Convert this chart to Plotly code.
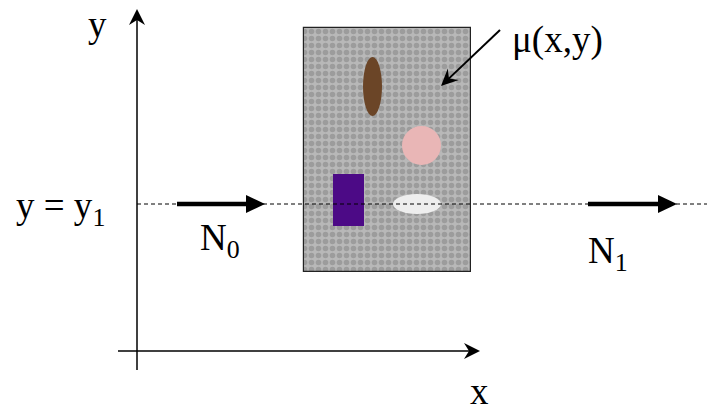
import plotly.graph_objects as go
import math

# ---- diagram content (canvas units = reference pixels, y downward) ----
labels = ["y", "y = y<sub>1</sub>", "N<sub>0</sub>", "N<sub>1</sub>", "x", "μ(x,y)"]
label_pos = [(97, 24), (14, 208), (220, 240), (608, 253), (479, 391), (557, 40)]
label_anchor = ["center", "left", "center", "center", "center", "center"]

phantom_box = [304, 28, 471, 272]            # x0, y0, x1, y1
object_kinds = ["ellipse", "ellipse", "rect", "ellipse"]
object_boxes = [[363, 57, 382, 116], [402, 126, 441, 165], [333, 174, 364, 226], [393, 194, 441, 214]]
object_colors = ["#6b4527", "#e9b6b6", "#4c0a86", "#eeeeee"]

beam_y = 204
flux_arrows = [(177, 265), (588, 677)]       # tail x, tip x
axis_origin = (137, 351)
axis_ends = {"y_top": 9, "y_bottom": 370, "x_left": 118, "x_right": 480}
mu_arrow = ((500, 30), (441, 86))

fig = go.Figure()

# textured phantom (pattern fill)
fig.add_trace(go.Bar(
    x=[(phantom_box[0] + phantom_box[2]) / 2], width=[phantom_box[2] - phantom_box[0]],
    base=[phantom_box[1]], y=[phantom_box[3] - phantom_box[1]],
    marker=dict(color="#a9a9a9", line=dict(color="#222", width=1.2),
                pattern=dict(shape=".", fgcolor="#808080", bgcolor="#b8b8b8", size=7, solidity=0.5)),
    hoverinfo="skip", showlegend=False))

shapes = []
for kind, b, c in zip(object_kinds, object_boxes, object_colors):
    shapes.append(dict(type="circle" if kind == "ellipse" else "rect",
                       x0=b[0], y0=b[1], x1=b[2], y1=b[3],
                       fillcolor=c, line=dict(width=0), layer="above"))

ox, oy = axis_origin
# axes
shapes.append(dict(type="line", x0=ox, x1=ox, y0=axis_ends["y_bottom"], y1=axis_ends["y_top"] + 8,
                   line=dict(color="black", width=1.5)))
shapes.append(dict(type="line", x0=axis_ends["x_left"], x1=axis_ends["x_right"] - 8, y0=oy, y1=oy,
                   line=dict(color="black", width=1.5)))
# y arrowhead (barbed)
t = axis_ends["y_top"]
shapes.append(dict(type="path", path=f"M {ox},{t} L {ox+8},{t+16} L {ox},{t+11} L {ox-8},{t+16} Z",
                   fillcolor="black", line=dict(width=0)))
# x arrowhead (barbed)
r = axis_ends["x_right"]
shapes.append(dict(type="path", path=f"M {r},{oy} L {r-16},{oy-8} L {r-11},{oy} L {r-16},{oy+8} Z",
                   fillcolor="black", line=dict(width=0)))

# dashed beam line
shapes.append(dict(type="line", x0=ox, x1=707, y0=beam_y, y1=beam_y,
                   line=dict(color="black", width=1, dash="4px,3px"), layer="above"))

# thick flux arrows
for tail, tip in flux_arrows:
    shapes.append(dict(type="line", x0=tail, x1=tip - 16, y0=beam_y, y1=beam_y,
                       line=dict(color="black", width=4.5)))
    shapes.append(dict(type="path", path=f"M {tip},{beam_y} L {tip-19},{beam_y-9} L {tip-19},{beam_y+9} Z",
                       fillcolor="black", line=dict(width=0)))

# mu arrow
(x0, y0), (x1, y1) = mu_arrow
dx, dy = x1 - x0, y1 - y0
L = math.hypot(dx, dy)
ux, uy = dx / L, dy / L
px, py = -uy, ux
hl, hw, notch = 17, 8, 11
shapes.append(dict(type="line", x0=x0, y0=y0, x1=x1 - ux * 10, y1=y1 - uy * 10,
                   line=dict(color="black", width=2)))
shapes.append(dict(type="path",
                   path=(f"M {x1},{y1} L {x1-ux*hl+px*hw},{y1-uy*hl+py*hw} "
                         f"L {x1-ux*notch},{y1-uy*notch} L {x1-ux*hl-px*hw},{y1-uy*hl-py*hw} Z"),
                   fillcolor="black", line=dict(width=0), layer="above"))

annotations = []
for txt, (x, y), anc in zip(labels, label_pos, label_anchor):
    annotations.append(dict(text=txt, x=x, y=y, xanchor=anc, yanchor="middle", showarrow=False,
                            font=dict(family="Liberation Serif", size=37, color="black")))

fig.update_layout(
    width=707, height=404, margin=dict(l=0, r=0, t=0, b=0),
    paper_bgcolor="white", plot_bgcolor="white",
    xaxis=dict(range=[0, 707], visible=False, fixedrange=True),
    yaxis=dict(range=[404, 0], visible=False, fixedrange=True),
    shapes=shapes, annotations=annotations, showlegend=False, bargap=0,
)
fig.write_html("out.html", config={"displayModeBar": False},
               post_script="document.body.style.margin='0';document.body.style.overflow='hidden';")
